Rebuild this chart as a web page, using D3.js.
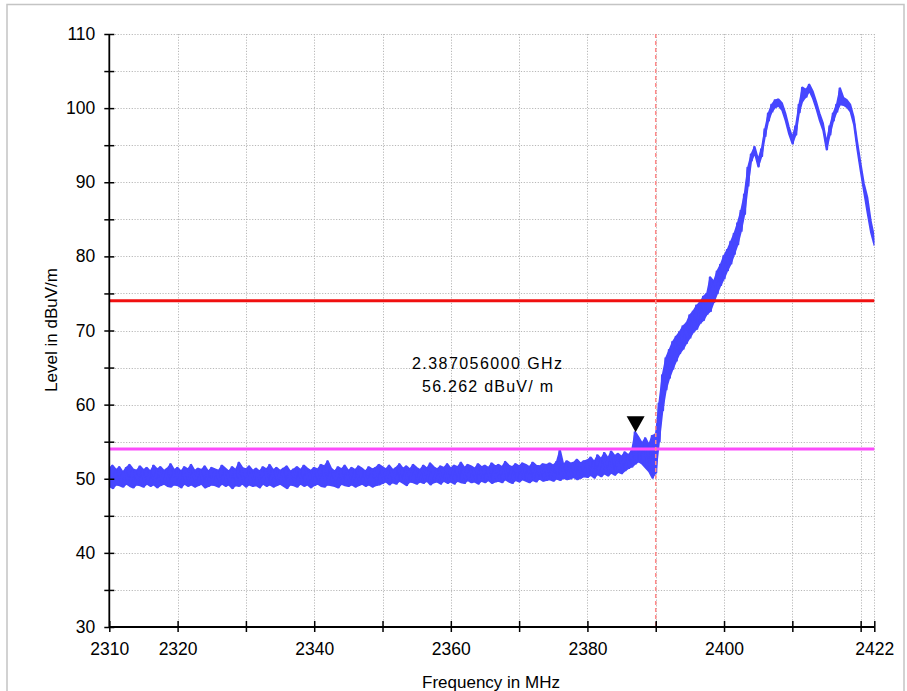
<!DOCTYPE html>
<html>
<head>
<meta charset="utf-8">
<script src="https://cdn.jsdelivr.net/npm/d3@7"></script>
<style>
  html, body { margin: 0; padding: 0; background: #fff; }
  svg { display: block; font-family: "Liberation Sans", Arial, Helvetica, sans-serif; }
</style>
</head>
<body>
<svg id="chart" width="907" height="691"></svg>
<script>
// ---------------- data ----------------
const freqStart = 2310;   // MHz, first sweep point
const freqStep = 0.5;     // MHz between sweep points

// peak (upper) level of each sweep point, dBuV/m
const levelHi = [
  // 2310 - 2349.5
  51.4, 51.8, 51.2, 51.6, 50.9, 51.5, 51.9, 51.3, 51.1, 51.7,
  51.2, 51.5, 51.0, 51.8, 51.3, 51.6, 51.1, 51.4, 52.0, 51.2,
  51.5, 51.0, 51.6, 51.3, 51.9, 51.1, 51.4, 51.2, 51.7, 51.0,
  51.5, 51.3, 51.1, 51.8, 51.4, 51.0, 51.6, 51.2, 52.2, 51.5,
  51.3, 51.7, 51.1, 51.4, 51.0, 51.6, 51.3, 51.9, 51.2, 51.5,
  51.1, 51.4, 51.7, 51.0, 51.3, 51.6, 51.2, 51.8, 51.4, 51.1,
  51.5, 51.3, 51.9, 51.7, 52.4, 51.4, 51.0, 51.6, 51.3, 51.8,
  51.1, 51.5, 51.2, 51.7, 51.4, 51.0, 51.6, 51.3, 51.5, 51.9,
  // 2350 - 2379.5
  51.6, 51.3, 51.8, 51.2, 51.5, 52.0, 51.4, 51.7, 51.3, 51.9,
  51.5, 51.2, 51.8, 51.4, 52.1, 51.6, 51.3, 51.7, 51.5, 52.0,
  51.4, 51.8, 51.6, 52.2, 51.5, 51.9, 51.7, 51.4, 52.0, 51.6,
  51.8, 51.5, 52.1, 51.7, 51.9, 51.6, 52.3, 51.8, 51.6, 52.0,
  51.7, 52.1, 51.9, 51.6, 52.2, 51.8, 51.7, 52.0, 51.9, 52.1,
  51.8, 52.3, 53.9, 51.9, 52.4, 52.1, 52.2, 52.6, 52.1, 52.4,
  // 2380 - 2389.5
  52.5, 52.9, 52.3, 53.2, 52.7, 53.5, 52.8, 53.7, 53.1, 53.4,
  53.0, 53.6, 53.2, 53.8, 56.3, 55.6, 54.8, 55.5, 54.6, 55.8,
  // 2390 - 2403.5
  56.0, 60.2, 64.0, 66.3, 67.4, 68.5, 69.2, 69.8, 70.6, 71.0,
  72.1, 72.6, 73.4, 73.8, 74.6, 75.0, 77.2, 76.6, 78.0, 78.9,
  80.1, 80.9, 82.0, 83.1, 84.5, 86.2, 88.4, 92.0,
  // 2404 - 2422
  93.8, 94.8, 93.1, 94.5, 97.2, 99.3, 100.5, 101.1, 101.2, 100.7,
  99.3, 97.5, 96.1, 97.6, 100.5, 102.8, 102.5, 103.2, 102.3, 100.9,
  99.3, 98.0, 95.4, 97.6, 99.3, 100.5, 102.7, 101.4, 101.1, 100.5,
  98.8, 95.6, 92.6, 89.8, 88.0, 84.8, 82.6
];

// minimum (lower) level of each sweep point, dBuV/m
const levelLo = [
  // 2310 - 2349.5
  49.0, 48.7, 49.2, 49.1, 48.9, 49.3, 49.0, 48.8, 49.2, 49.1,
  48.9, 49.3, 49.0, 49.2, 48.8, 49.1, 49.3, 49.0, 48.9, 49.2,
  49.1, 48.8, 49.3, 49.0, 49.2, 48.9, 49.1, 49.3, 48.8, 49.0,
  49.2, 49.1, 48.9, 49.3, 49.0, 49.2, 48.7, 49.1, 49.0, 49.3,
  48.9, 49.2, 49.0, 49.1, 48.8, 49.3, 49.0, 49.2, 48.9, 49.1,
  49.3, 49.0, 48.7, 49.2, 49.1, 48.9, 49.3, 49.0, 49.2, 48.8,
  49.1, 49.3, 49.0, 48.9, 49.2, 49.1, 49.0, 48.8, 49.3, 49.1,
  49.0, 49.2, 48.9, 49.1, 49.3, 49.0, 49.2, 48.9, 49.1, 49.2,
  // 2350 - 2379.5
  49.4, 49.6, 49.2, 49.5, 49.3, 49.7, 49.4, 49.1, 49.6, 49.5,
  49.3, 49.6, 49.4, 49.7, 49.2, 49.5, 49.6, 49.3, 49.7, 49.4,
  49.6, 49.3, 49.7, 49.5, 49.4, 49.8, 49.5, 49.6, 49.3, 49.7,
  49.5, 49.8, 49.4, 49.6, 49.7, 49.5, 49.9, 49.6, 49.4, 49.8,
  49.6, 49.9, 49.7, 49.5, 49.8, 49.6, 50.0, 49.7, 49.8, 49.9,
  49.7, 50.0, 49.8, 50.1, 49.9, 50.0, 50.2, 49.9, 50.1, 50.3,
  // 2380 - 2389.5
  50.2, 50.5, 50.1, 50.6, 50.3, 50.7, 50.4, 50.8, 50.5, 50.9,
  50.7, 51.1, 51.4, 51.6, 52.0, 52.3, 52.0, 51.5, 51.0, 50.1,
  // 2390 - 2403.5
  50.8, 55.0, 59.2, 62.0, 63.6, 64.8, 65.9, 66.9, 67.5, 68.3,
  69.0, 69.8, 70.2, 71.0, 71.4, 72.2, 72.6, 73.8, 75.0, 76.1,
  77.0, 78.1, 79.0, 80.3, 81.6, 83.4, 85.7, 89.5,
  // 2404 - 2422
  92.9, 93.9, 92.1, 93.5, 96.2, 98.3, 99.5, 100.1, 100.3, 99.7,
  98.3, 96.5, 95.2, 96.4, 99.4, 101.0, 101.5, 102.3, 101.3, 99.9,
  98.3, 97.0, 94.4, 96.4, 98.3, 99.5, 100.5, 100.4, 100.1, 99.5,
  97.8, 94.4, 91.4, 88.6, 85.8, 83.2, 81.5
];

const xTicks = [2310, 2320, 2330, 2340, 2350, 2360, 2370, 2380, 2390, 2400, 2410, 2420, 2422];
const xTickLabels = [2310, 2320, 2340, 2360, 2380, 2400, 2422];
const xGrid = [2320, 2330, 2340, 2350, 2360, 2370, 2380, 2390, 2400, 2410, 2420, 2422];
const yTicks = [30, 35, 40, 45, 50, 55, 60, 65, 70, 75, 80, 85, 90, 95, 100, 105, 110];
const yTickLabels = [30, 40, 50, 60, 70, 80, 90, 100, 110];
const yGrid = [35, 40, 45, 50, 55, 60, 65, 70, 75, 80, 85, 90, 95, 100, 105, 110];

const limitRed = 74;       // dBuV/m
const limitMagenta = 54;   // dBuV/m
const bandEdge = 2390;     // MHz
const markerFreq = 2387.056;
const markerLevel = 56.262;
const markerText = ["2.387056000 GHz", "56.262 dBuV/ m"];
const xTitle = "Frequency in MHz";
const yTitle = "Level in dBuV/m";

// ---------------- drawing ----------------
const svg = d3.select("#chart");
const W = 907, H = 691;
const pLeft = 109.3, pRight = 874.3, pTop = 34, pBottom = 627;
const traceColor = "#4646ff";

const x = d3.scaleLinear().domain([2310, 2422]).range([pLeft, pRight]);
const y = d3.scaleLinear().domain([30, 110]).range([pBottom, pTop]);

svg.append("rect").attr("width", W).attr("height", H).attr("fill", "#fff");
// outer frame
svg.append("rect").attr("x", 7).attr("y", 4.5).attr("width", 897).attr("height", 700)
  .attr("fill", "none").attr("stroke", "#c4c4c4").attr("stroke-width", 1.5);

// grid
const grid = svg.append("g").attr("stroke", "#b8b8b8").attr("stroke-width", 1)
  .attr("stroke-dasharray", "1.2,1.6");
grid.selectAll("line.h").data(yGrid).join("line").attr("class", "h")
  .attr("x1", pLeft).attr("x2", pRight)
  .attr("y1", d => Math.round(y(d)) + 0.5).attr("y2", d => Math.round(y(d)) + 0.5);
grid.selectAll("line.v").data(xGrid).join("line").attr("class", "v")
  .attr("y1", pTop).attr("y2", pBottom)
  .attr("x1", d => Math.round(x(d)) + 0.5).attr("x2", d => Math.round(x(d)) + 0.5);

// clip for the trace
svg.append("clipPath").attr("id", "plotclip").append("rect")
  .attr("x", pLeft).attr("y", pTop).attr("width", pRight - pLeft).attr("height", pBottom - pTop);

// trace: filled band between min and peak, plus a zigzag through the sweep points
const band = levelHi.map((hi, i) => ({ f: freqStart + i * freqStep, hi: hi, lo: levelLo[i] }));
const traceG = svg.append("g").attr("clip-path", "url(#plotclip)");
traceG.append("path")
  .attr("d", d3.area().x(d => x(d.f)).y0(d => y(d.lo)).y1(d => y(d.hi))(band))
  .attr("fill", traceColor).attr("stroke", traceColor).attr("stroke-width", 1.6)
  .attr("stroke-linejoin", "round");
const pts = [];
band.forEach(d => {
  pts.push([d.f - freqStep / 4, d.hi]);
  pts.push([d.f + freqStep / 4, d.lo]);
});
traceG.append("path")
  .attr("d", d3.line().x(d => x(d[0])).y(d => y(d[1]))(pts))
  .attr("fill", "none").attr("stroke", traceColor).attr("stroke-width", 1.4)
  .attr("stroke-linejoin", "round");

// limit lines (drawn over the trace)
svg.append("line").attr("x1", pLeft).attr("x2", pRight)
  .attr("y1", y(limitRed)).attr("y2", y(limitRed))
  .attr("stroke", "#f01010").attr("stroke-width", 3);
svg.append("line").attr("x1", pLeft).attr("x2", pRight)
  .attr("y1", y(limitMagenta)).attr("y2", y(limitMagenta))
  .attr("stroke", "#fb4cfb").attr("stroke-width", 3);

// band edge dashed line
svg.append("line").attr("x1", x(bandEdge)).attr("x2", x(bandEdge))
  .attr("y1", pTop).attr("y2", pBottom)
  .attr("stroke", "#ff8a8a").attr("stroke-width", 1.5).attr("stroke-dasharray", "4,3");

// axes
const yAxis = d3.axisLeft(y).tickValues(yTicks)
  .tickFormat(d => yTickLabels.includes(d) ? d : "").tickSize(5).tickPadding(9);
const gy = svg.append("g").attr("transform", `translate(${pLeft},0)`).call(yAxis);
gy.select(".domain").attr("stroke", "#000").attr("stroke-width", 1.8).attr("d", `M0,${pTop}V${pBottom}`);
gy.selectAll(".tick line").attr("x1", -5).attr("x2", 5).attr("stroke", "#000").attr("stroke-width", 1.5);
gy.selectAll(".tick text").attr("font-size", 17.5).attr("fill", "#000")
  .attr("font-family", '"Liberation Sans", Arial, sans-serif');

const xAxis = d3.axisBottom(x).tickValues(xTicks)
  .tickFormat(d => xTickLabels.includes(d) ? d : "").tickSize(5).tickPadding(11);
const gx = svg.append("g").attr("transform", `translate(0,${pBottom})`).call(xAxis);
gx.select(".domain").attr("stroke", "#000").attr("stroke-width", 1.8).attr("d", `M${pLeft},0H${pRight}`);
gx.selectAll(".tick line").attr("y1", -6).attr("y2", 5).attr("stroke", "#000").attr("stroke-width", 1.5);
gx.selectAll(".tick text").attr("font-size", 17.5).attr("fill", "#000")
  .attr("font-family", '"Liberation Sans", Arial, sans-serif');

// axis titles
svg.append("text").attr("x", 491).attr("y", 688).attr("text-anchor", "middle")
  .attr("font-size", 17).attr("fill", "#000").text(xTitle);
svg.append("text").attr("transform", "translate(57,330) rotate(-90)").attr("text-anchor", "middle")
  .attr("font-size", 17).attr("fill", "#000").text(yTitle);

// marker
const mx = x(markerFreq), my = y(markerLevel);
svg.append("path")
  .attr("d", `M${mx},${my}L${mx - 9},${my - 16}L${mx + 9},${my - 16}Z`)
  .attr("fill", "#000");

// marker readout
const ann = svg.append("g").attr("font-size", 16).attr("fill", "#000").attr("text-anchor", "middle");
ann.append("text").attr("x", 487).attr("y", 369)
  .attr("textLength", 150).attr("lengthAdjust", "spacing").text(markerText[0]);
ann.append("text").attr("x", 487.5).attr("y", 392)
  .attr("textLength", 131).attr("lengthAdjust", "spacing").text(markerText[1]);
</script>
</body>
</html>
